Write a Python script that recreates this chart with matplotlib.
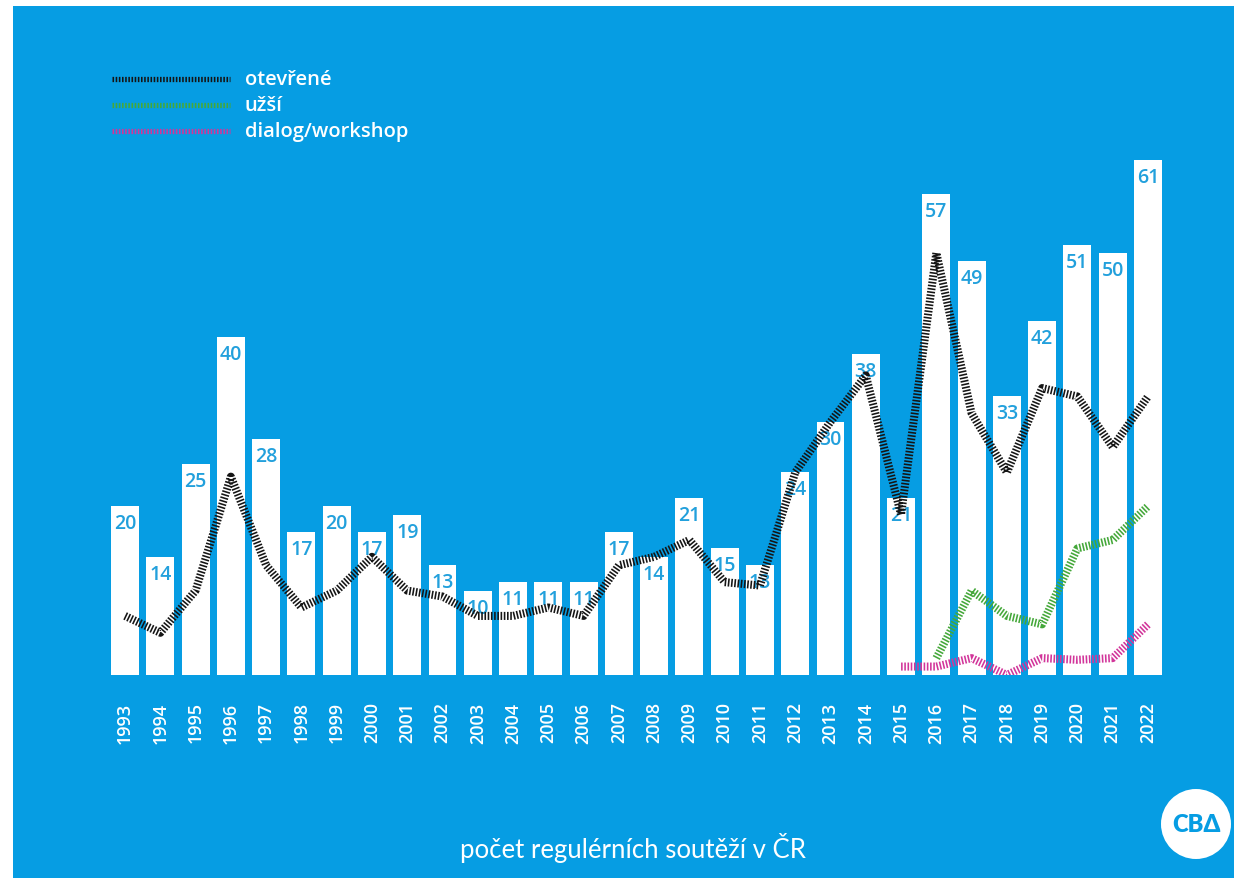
import matplotlib
matplotlib.use("Agg")
import matplotlib.pyplot as plt
from matplotlib.patches import Rectangle, Ellipse
from matplotlib.lines import Line2D

years = list(range(1993, 2023))
totals = [20, 14, 25, 40, 28, 17, 20, 17, 19, 13, 10, 11, 11, 11, 17, 14, 21, 15, 13, 24,
          30, 38, 21, 57, 49, 33, 42, 51, 50, 61]
otevrene = [7, 5, 10, 23.5, 13, 8, 10, 14, 10, 9.3, 7, 7, 8, 7, 13, 14, 16, 11, 10.6, 24,
            30, 35.5, 19, 50, 31, 24, 34, 33, 27, 33]
uzsi_years = list(range(2016, 2023))
uzsi = [2, 10, 7, 6, 15, 16, 20]
dialog_years = list(range(2015, 2023))
dialog = [1, 1, 2, 0, 2, 1.8, 2, 6]

legend_labels = ["otevřené", "užší", "dialog/workshop"]
title = "počet regulérních soutěží v ČR"

BLUE = "#069DE3"
LABEL_BLUE = "#22A0DC"
BLACK = "#151515"
GREEN = "#45A83A"
MAGENTA = "#D2359A"

W, H = 1234, 879
fig = plt.figure(figsize=(W / 100, H / 100), dpi=100)
fig.patch.set_facecolor("white")
fig.patches.append(Rectangle((13 / W, 0), 1, (H - 7) / H, transform=fig.transFigure,
                             facecolor=BLUE, edgecolor="none", zorder=-10))

px_per_unit = 8.44
base_y = 676
top_y = 150
x0 = 107.4
x1 = 1165.6
ax = fig.add_axes([x0 / W, (H - base_y) / H, (x1 - x0) / W, (base_y - top_y) / H])
ax.set_zorder(5)
ax.set_facecolor("none")
ax.set_xlim(-0.5, len(years) - 0.5)
ax.set_ylim(0, (base_y - top_y) / px_per_unit)
for s in ax.spines.values():
    s.set_visible(False)

idx = list(range(len(years)))
ax.bar(idx, totals, width=0.79, color="white", zorder=1)
for i, v in zip(idx, totals):
    ax.annotate(str(v), (i, v), xytext=(0, -17), textcoords="offset pixels",
                ha="center", va="center", color=LABEL_BLUE, fontsize=14,
                fontweight="semibold", family="Open Sans", zorder=2)

dash = (0, (0.2, 0.2))
ax.plot(idx, otevrene, color=BLACK, lw=5.8, linestyle=dash, dash_capstyle="butt", zorder=3)
ax.plot([years.index(y) for y in uzsi_years], uzsi, color=GREEN, lw=5.8, linestyle=dash,
        dash_capstyle="butt", zorder=3)
ax.plot([years.index(y) for y in dialog_years], dialog, color=MAGENTA, lw=5.8, linestyle=dash,
        dash_capstyle="butt", zorder=3)

ax.set_yticks([])
ax.set_xticks(idx, [str(y) for y in years], rotation=90)
ax.tick_params(axis="x", length=0, pad=19, labelcolor="white", labelsize=13)
for t in ax.get_xticklabels():
    t.set_family("Open Sans")
    t.set_fontweight("semibold")

# legend
for k, (lab, col) in enumerate(zip(legend_labels, [BLACK, GREEN, MAGENTA])):
    yy = 1 - (80 + 26 * k) / H
    fig.lines.append(Line2D([112 / W, 230 / W], [yy, yy], transform=fig.transFigure,
                            color=col, lw=3.8, linestyle=(0, (0.3, 0.3)), dash_capstyle="butt"))
    fig.text(245 / W, yy, lab, color="white", fontsize=14.5, fontweight="semibold",
             family="Open Sans", va="center", ha="left")

fig.text(633 / W, 1 - 848 / H, title, color="white", fontsize=18.5, family="Lato",
         ha="center", va="center")

# logo
fig.patches.append(Ellipse((1196 / W, 1 - 825 / H), 70 / W, 70 / H, transform=fig.transFigure,
                           facecolor="white", edgecolor="none"))
fig.text(1196 / W, 1 - 825 / H, "CBΔ", color=BLUE, fontsize=17, fontweight="heavy",
         family="Lato", ha="center", va="center")

fig.savefig("out.png", dpi=100, facecolor=fig.get_facecolor())
